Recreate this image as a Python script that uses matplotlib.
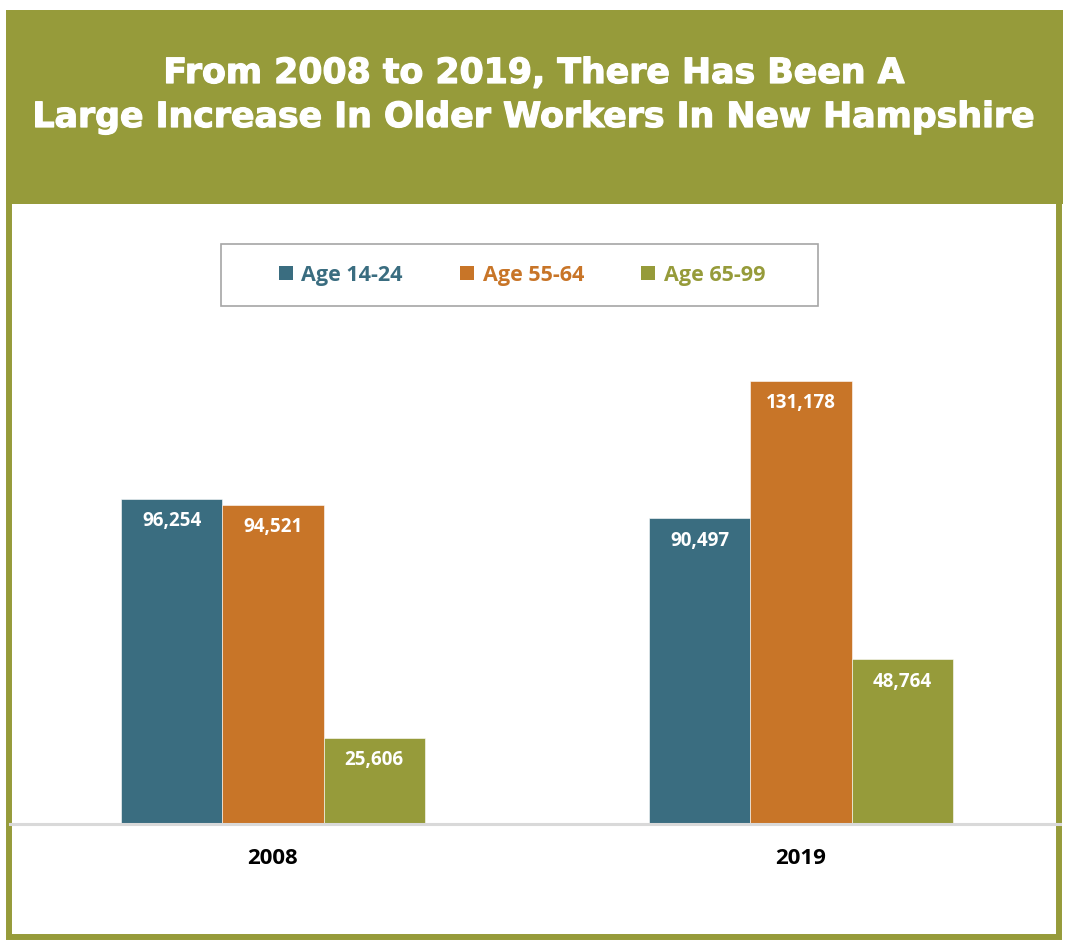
import matplotlib
matplotlib.use("Agg")
import matplotlib.pyplot as plt
import matplotlib.patheffects as pe
from matplotlib.patches import Rectangle, Patch

# data
years = ["2008", "2019"]
series = ["Age 14-24", "Age 55-64", "Age 65-99"]
age_14_24 = [96254, 90497]
age_55_64 = [94521, 131178]
age_65_99 = [25606, 48764]

title_lines = ["From 2008 to 2019, There Has Been A",
               "Large Increase In Older Workers In New Hampshire"]

blue = "#3A6D80"
orange = "#C87528"
olive = "#969B3A"
colors = [blue, orange, olive]

W, H = 1066, 941
fig = plt.figure(figsize=(W / 100, H / 100), dpi=100)

# background layer in pixel coordinates
bg = fig.add_axes([0, 0, 1, 1], zorder=0)
bg.set_xlim(0, W)
bg.set_ylim(H, 0)
bg.axis("off")
bg.add_patch(Rectangle((9, 13), 1050, 924, facecolor="white",
                       edgecolor=olive, linewidth=4.3))
bg.add_patch(Rectangle((6, 10), 1057, 194, facecolor=olive, edgecolor="none"))
heavy = [pe.withStroke(linewidth=0.9, foreground="white")]
bg.text(534, 73, title_lines[0], color="white", fontsize=25, fontweight="bold",
        family="DejaVu Sans", ha="center", va="center", path_effects=heavy)
bg.text(534, 117, title_lines[1], color="white", fontsize=25, fontweight="bold",
        family="DejaVu Sans", ha="center", va="center", path_effects=heavy)
# legend frame
bg.add_patch(Rectangle((221, 244), 597, 62, facecolor="white",
                       edgecolor="#A6A6A6", linewidth=1.2))

# main chart
ax_bottom = (H - 824) / H
ax_top = (H - 340) / H
ax = fig.add_axes([10 / W, ax_bottom, 1050 / W, ax_top - ax_bottom], zorder=1)
ax.patch.set_alpha(0)

width = 0.1915
x = [0, 1]
values = [age_14_24, age_55_64, age_65_99]
for i, (vals, c) in enumerate(zip(values, colors)):
    pos = [xi + (i - 1) * width for xi in x]
    ax.bar(pos, vals, width=width, color=c, edgecolor="white", linewidth=0.4)
    for p, v in zip(pos, vals):
        ax.annotate(f"{v:,}", xy=(p, v), xytext=(0, -16), textcoords="offset points",
                    ha="center", va="center", color="white", fontsize=13.5,
                    fontweight="bold", family="Open Sans")

ax.set_xlim(-0.498, 1.4905)
ax.set_ylim(0, 143343)
ax.axhline(0, color="#D9D9D9", linewidth=2.2, zorder=3, clip_on=False)
for s in ax.spines.values():
    s.set_visible(False)
ax.set_yticks([])
ax.set_xticks(x)
ax.set_xticklabels(years, fontsize=16, fontweight="bold", family="Open Sans")
ax.tick_params(axis="x", length=0, pad=17)

handles = [Patch(facecolor=c) for c in colors]
leg = fig.legend(handles, series, loc="center", bbox_to_anchor=(522 / W, 1 - 275 / H),
                 ncol=3, frameon=False, handlelength=0.65, handleheight=0.65,
                 handletextpad=0.4, columnspacing=2.65,
                 prop={"family": "Open Sans", "weight": "bold", "size": 15.5})
for t, c in zip(leg.get_texts(), colors):
    t.set_color(c)

fig.savefig("out.png", dpi=100)
